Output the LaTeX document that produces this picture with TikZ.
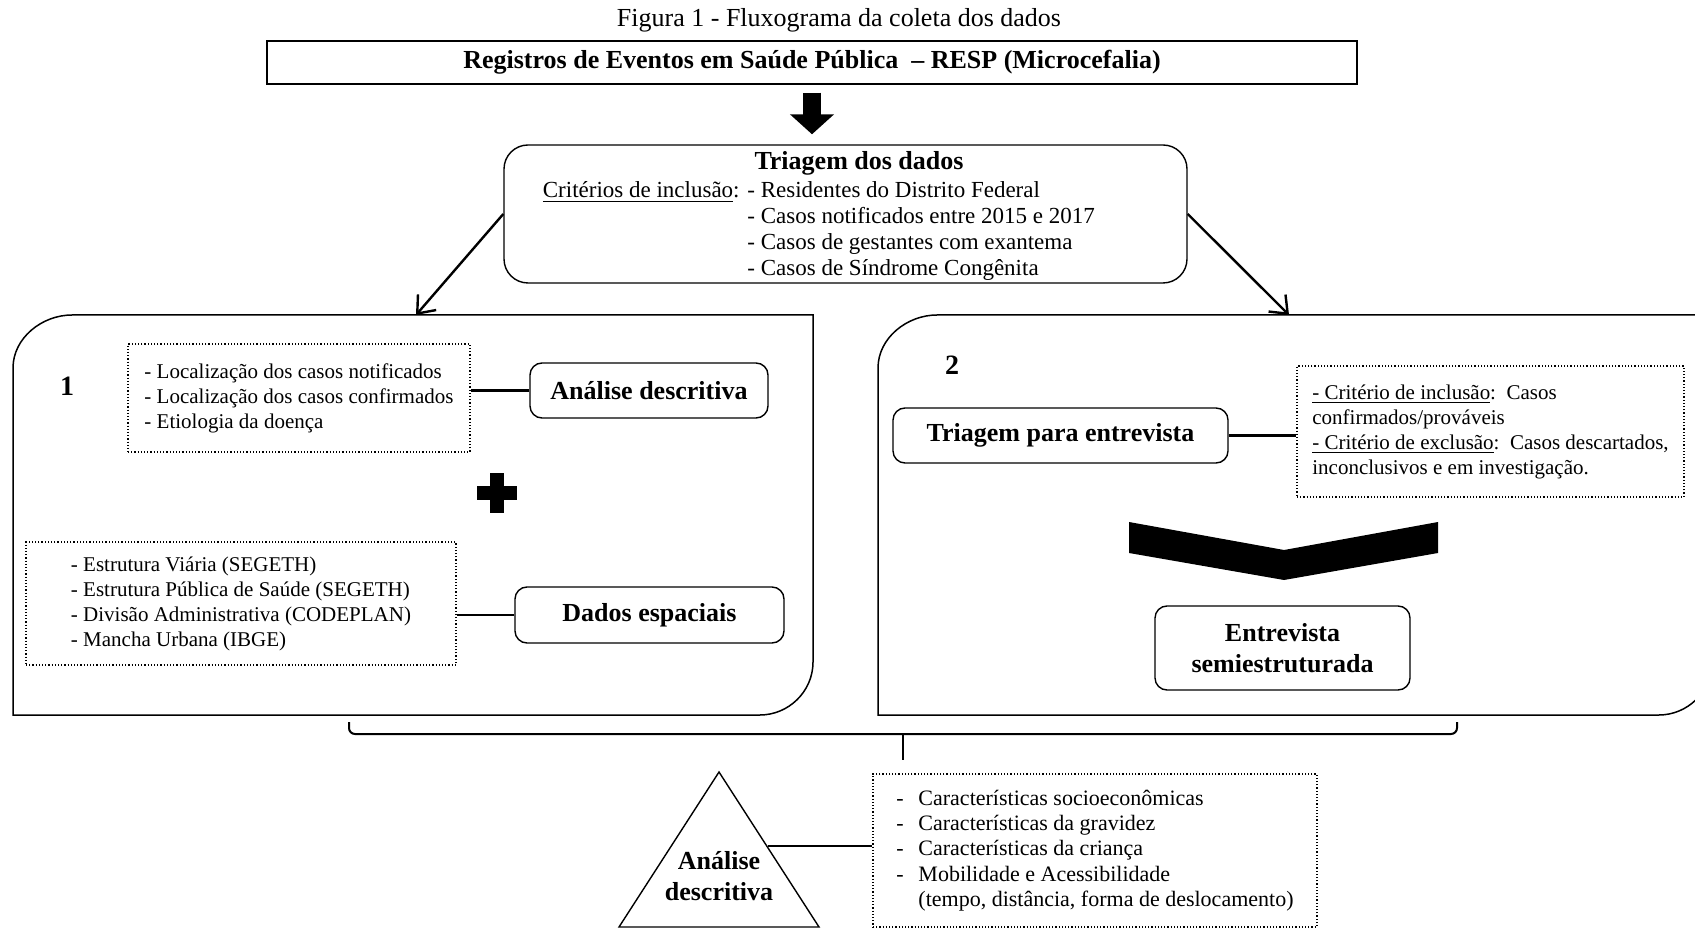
\documentclass[tikz,border=0pt]{standalone}
\usepackage{fontspec}
\setmainfont{Liberation Serif}
\usetikzlibrary{arrows.meta}

\begin{document}
\begin{tikzpicture}[x=0.5pt,y=-0.5pt,
    every node/.style={inner sep=0pt},
    boldlabel/.style={font=\fontsize{13}{15.5}\selectfont\bfseries,align=center},
    roundbox/.style={draw,line width=0.7pt,rounded corners=6pt,boldlabel},
    dotbox/.style={draw,densely dotted,line width=0.6pt,align=left,
      font=\fontsize{10.5}{12.5}\selectfont},
    panel/.style={draw,line width=0.75pt},
    link/.style={line width=1.4pt},
    thinarrow/.style={line width=1.2pt,-{Straight Barb[length=7.5pt,width=12pt]}}]

    \path[use as bounding box,clip] (0,0) rectangle (1695,929);

    \node[font=\fontsize{13}{15}\selectfont] (node-caption) at (839,20)
      {Figura 1 - Fluxograma da coleta dos dados};
    \node[draw,line width=0.7pt,minimum width=545pt,minimum height=21.5pt,
      boldlabel] (node-resp) at (812,62.5)
      {Registros de Eventos em Saúde Pública\ \ – RESP (Microcefalia)};

    \node[draw,line width=0.7pt,rounded corners=12pt,minimum width=341.5pt,
      minimum height=69pt] (node-triagem) at (845.5,214) {};
    \node[boldlabel] (node-triagem-title) at (859,163) {Triagem dos dados};
    \node[anchor=base east,font=\fontsize{11.5}{13}\selectfont]
      (node-criterios) at (740,198) {\underline{Critérios de inclusão}:};
    \node[anchor=west,align=left,font=\fontsize{11.5}{13}\selectfont]
      (node-lista) at (747,231)
      {- Residentes do Distrito Federal\\
       - Casos notificados entre 2015 e 2017\\
       - Casos de gestantes com exantema\\
       - Casos de Síndrome Congênita};

    \draw[line width=9pt,-{Triangle[length=10pt,width=21.5pt]},
      shorten <=4pt,shorten >=5pt] (node-resp.south)
      -- (node-resp.south |- node-triagem.north);

    % the two panels
    \draw[panel] (13,715) -- (13,368) .. controls (13,338) and (42,315) .. (72,315)
      -- (813,315) -- (813,662) .. controls (813,692) and (788,715) .. (760,715) -- cycle;
    \draw[panel] (878,715) -- (878,368) .. controls (878,338) and (907,315) .. (937,315)
      -- (1712,315) -- (1712,662) .. controls (1712,692) and (1687,715) .. (1659,715) -- cycle;
    \coordinate (panel1-top) at (416,315);
    \coordinate (panel2-top) at (1289,315);
    \draw[thinarrow] (node-triagem.west) -- (panel1-top);
    \draw[thinarrow] (node-triagem.east) -- (panel2-top);

    \node[font=\fontsize{14}{16}\selectfont\bfseries] (node-num1) at (67,386) {1};
    \node[dotbox,minimum width=171pt,minimum height=54pt] (node-local) at (299,398)
      {- Localização dos casos notificados\\
       - Localização dos casos confirmados\\
       - Etiologia da doença};
    \node[roundbox,minimum width=119pt,minimum height=27.5pt] (node-analise)
      at (649,390.5) {Análise descritiva};
    \draw[link] (node-analise.west) -- (node-analise.west -| node-local.east);

    \fill (490,473) rectangle (504,513);
    \fill (477,486) rectangle (517,500);

    \node[dotbox,minimum width=215pt,minimum height=61.5pt] (node-fontes)
      at (241,603.5)
      {- Estrutura Viária (SEGETH)\\
       - Estrutura Pública de Saúde (SEGETH)\\
       - Divisão Administrativa (CODEPLAN)\\
       - Mancha Urbana (IBGE)};
    \node[roundbox,minimum width=134.5pt,minimum height=28pt] (node-dados)
      at (649.5,615) {Dados espaciais};
    \draw[link] (node-dados.west) -- (node-dados.west -| node-fontes.east);

    \node[font=\fontsize{14}{16}\selectfont\bfseries] (node-num2) at (952,365) {2};
    \node[roundbox,minimum width=167.5pt,minimum height=27.5pt] (node-triagem2)
      at (1060.5,435.5) {Triagem para entrevista};
    \node[dotbox,minimum width=193.5pt,minimum height=65.5pt] (node-criterio2)
      at (1490.5,431.5)
      {\underline{- Critério de inclusão}:\ \ Casos\\
       confirmados/prováveis\\
       \underline{- Critério de exclusão}:\ \ Casos descartados,\\
       inconclusivos e em investigação.};
    \draw[link] (node-triagem2.east) -- (node-triagem2.east -| node-criterio2.west);

    \fill (1129,522) -- (1284,550) -- (1438,522) -- (1438,553) -- (1284,580)
      -- (1129,553) -- cycle;
    \node[roundbox,minimum width=127.5pt,minimum height=42pt] (node-entrevista)
      at (1282.5,648) {Entrevista\\semiestruturada};

    % bracket and final analysis
    \coordinate (brace-l) at (349,722);
    \coordinate (brace-r) at (1457,722);
    \coordinate (brace-m) at (903,760);
    \draw[line width=1pt,rounded corners=3pt] (brace-l) -- (349,734) -- (1457,734)
      -- (brace-r);
    \draw[line width=1pt] (903,734) -- (brace-m);

    \coordinate (tri-top) at (719,772);
    \coordinate (tri-left) at (619,927);
    \coordinate (tri-right) at (819,927);
    \draw[line width=0.7pt] (tri-top) -- (tri-right) -- (tri-left) -- cycle;
    \node[boldlabel] (node-analise2) at (719,876) {Análise\\descritiva};
    \coordinate (tri-side) at (768,846);
    \node[dotbox,font=\fontsize{11}{12.6}\selectfont,minimum width=222pt,
      minimum height=76.5pt] (node-carac) at (1095,850.5)
      {\makebox[11pt][l]{-}Características socioeconômicas\\
       \makebox[11pt][l]{-}Características da gravidez\\
       \makebox[11pt][l]{-}Características da criança\\
       \makebox[11pt][l]{-}Mobilidade e Acessibilidade\\
       \hspace*{11pt}(tempo, distância, forma de deslocamento)};
    \draw[link] (tri-side) -- (tri-side -| node-carac.west);
\end{tikzpicture}
\end{document}
